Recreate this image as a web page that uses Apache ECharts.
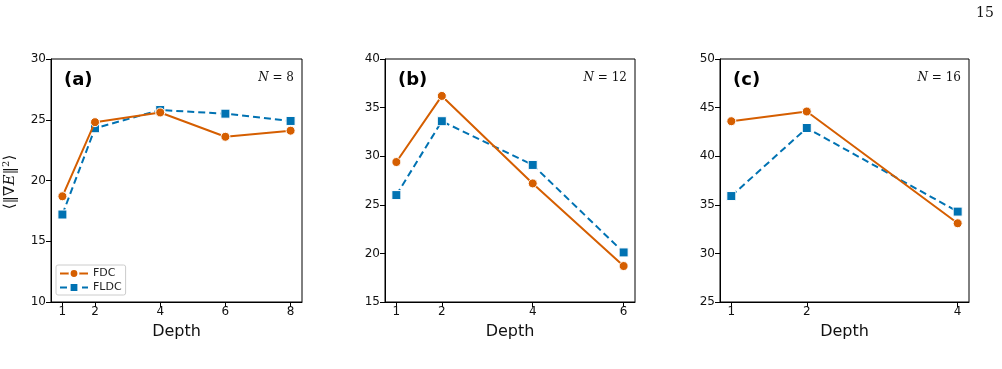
<!DOCTYPE html>
<html>
<head>
<meta charset="utf-8">
<script src="https://cdn.jsdelivr.net/npm/echarts@6/dist/echarts.min.js"></script>
<style>
  html, body { margin: 0; padding: 0; background: #fff; }
  #chart { width: 1002px; height: 369px; }
</style>
</head>
<body>
<div id="chart"></div>
<script>
// depth values per panel
var depthA = [1, 2, 4, 6, 8];
var depthB = [1, 2, 4, 6];
var depthC = [1, 2, 4];

// N = 8
var fdcA = [18.7, 24.8, 25.6, 23.6, 24.1];
var fldcA = [17.2, 24.3, 25.8, 25.5, 24.9];
// N = 12
var fdcB = [29.4, 36.2, 27.2, 18.7];
var fldcB = [26.0, 33.6, 29.1, 20.1];
// N = 16
var fdcC = [43.6, 44.6, 33.1];
var fldcC = [35.9, 42.9, 34.3];

var panelTags = ['(a)', '(b)', '(c)'];
var panelN = ['8', '12', '16'];

var orange = '#d55e00';
var blue = '#0072b2';

var grids = [
  { left: 51, top: 59, width: 251, height: 243 },
  { left: 385, top: 59, width: 250, height: 243 },
  { left: 720, top: 59, width: 249, height: 243 }
];
var xRanges = [[0.65, 8.35], [0.75, 6.25], [0.85, 4.15]];
var yRanges = [[10, 30], [15, 40], [25, 50]];
var depths = [depthA, depthB, depthC];
var fdc = [fdcA, fdcB, fdcC];
var fldc = [fldcA, fldcB, fldcC];

var chart = echarts.init(document.getElementById('chart'));

var option = {
  animation: false,
  grid: [],
  xAxis: [],
  yAxis: [],
  series: [],
  graphic: [],
  legend: {
    data: ['FDC', 'FLDC'],
    orient: 'vertical',
    left: 56,
    top: 265,
    itemGap: 3,
    itemWidth: 28,
    itemHeight: 11,
    padding: [3, 4, 2, 3],
    borderColor: '#ccc',
    borderWidth: 1,
    borderRadius: 2,
    textStyle: { fontFamily: 'DejaVu Sans', fontSize: 11, color: '#222' }
  }
};

for (var i = 0; i < 3; i++) {
  var g = grids[i];
  option.grid.push({
    left: g.left, top: g.top, width: g.width, height: g.height,
    show: true, borderColor: '#000', borderWidth: 1, backgroundColor: 'transparent'
  });
  option.xAxis.push({
    type: 'value', gridIndex: i,
    min: xRanges[i][0], max: xRanges[i][1],
    name: 'Depth', nameLocation: 'middle', nameGap: 22,
    nameTextStyle: { fontFamily: 'DejaVu Sans', fontSize: 16, color: '#111' },
    splitLine: { show: false },
    axisLine: { onZero: false, lineStyle: { color: '#000', width: 1 } },
    axisTick: { show: true, length: 5, customValues: depths[i], lineStyle: { color: '#000' } },
    axisLabel: { customValues: depths[i], fontFamily: 'DejaVu Sans', fontSize: 12, color: '#111', margin: 4 }
  });
  option.yAxis.push({
    type: 'value', gridIndex: i,
    min: yRanges[i][0], max: yRanges[i][1], interval: 5,
    splitLine: { show: false },
    axisLine: { show: true, onZero: false, lineStyle: { color: '#000', width: 1 } },
    axisTick: { show: true, length: 5, lineStyle: { color: '#000' } },
    axisLabel: { fontFamily: 'DejaVu Sans', fontSize: 12, color: '#111', margin: 5 }
  });
  var ptsF = [], ptsL = [];
  for (var j = 0; j < depths[i].length; j++) {
    ptsF.push([depths[i][j], fdc[i][j]]);
    ptsL.push([depths[i][j], fldc[i][j]]);
  }
  option.series.push({
    name: 'FDC', type: 'line', xAxisIndex: i, yAxisIndex: i, data: ptsF,
    symbol: 'circle', symbolSize: 9, z: 3,
    lineStyle: { color: orange, width: 2 },
    itemStyle: { color: orange, borderColor: '#fff', borderWidth: 1 }
  });
  option.series.push({
    name: 'FLDC', type: 'line', xAxisIndex: i, yAxisIndex: i, data: ptsL,
    symbol: 'rect', symbolSize: 9, z: 2,
    lineStyle: { color: blue, width: 2, type: [7, 4] },
    itemStyle: { color: blue, borderColor: '#fff', borderWidth: 1 }
  });
  option.graphic.push({
    type: 'text', left: g.left + 13, top: g.top + 12,
    style: { text: panelTags[i], font: 'bold 18px "DejaVu Sans"', fill: '#000' }
  });
  option.graphic.push({
    type: 'text', right: 1002 - g.left - g.width + 8, top: g.top + 13,
    style: {
      text: '{i|N} = {n|' + panelN[i] + '}',
      rich: {
        i: { fontFamily: 'DejaVu Serif', fontStyle: 'italic', fontSize: 12, fill: '#111' },
        n: { fontFamily: 'DejaVu Serif', fontSize: 12, fill: '#111' }
      },
      fontFamily: 'DejaVu Serif', fontSize: 12, fill: '#111'
    }
  });
}

// y axis title of first panel
option.graphic.push({
  type: 'text', x: 10, y: 182, rotation: Math.PI / 2, originX: 0, originY: 0,
  style: {
    text: '⟨‖∇{i|E}‖{s|2}⟩',
    align: 'center', verticalAlign: 'middle',
    fontFamily: 'DejaVu Serif', fontSize: 15, fill: '#111',
    rich: {
      i: { fontFamily: 'DejaVu Serif', fontStyle: 'italic', fontSize: 15 },
      s: { fontFamily: 'DejaVu Serif', fontSize: 10, verticalAlign: 'top', padding: [0, 0, 7, 0] }
    }
  }
});
// page number
option.graphic.push({
  type: 'text', left: 976, top: 6,
  style: { text: '15', fontFamily: 'DejaVu Serif', fontSize: 14, fill: '#111' }
});

chart.setOption(option);
</script>
</body>
</html>
